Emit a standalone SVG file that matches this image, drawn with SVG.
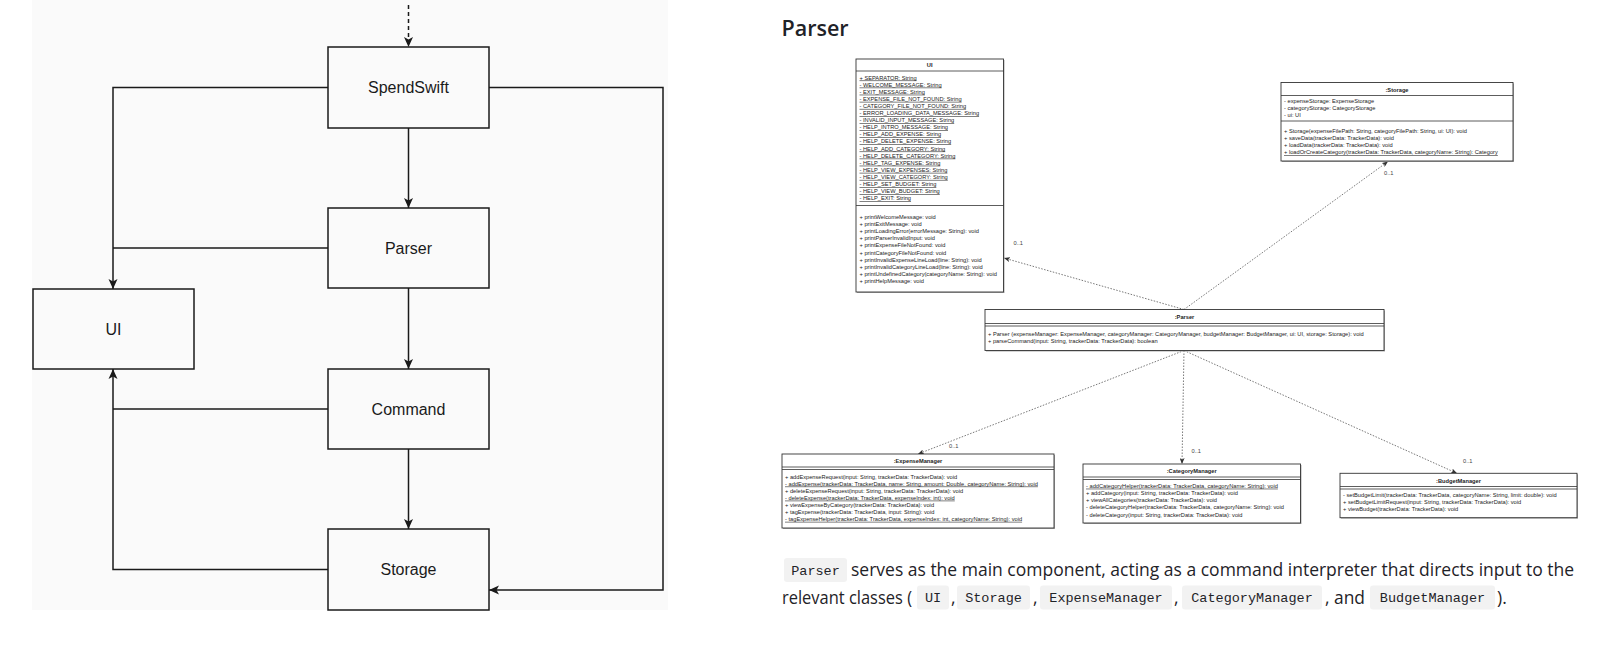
<svg xmlns="http://www.w3.org/2000/svg" width="1617" height="654" viewBox="0 0 1617 654">
<style>
.lb{font-family:"Liberation Sans",Arial,sans-serif;font-size:16px;fill:#1a1a1a;text-anchor:middle}
.bx{fill:#fafafa;stroke:#1a1a1a;stroke-width:1.5}
.ln{stroke:#1a1a1a;stroke-width:1.5;fill:none}
.u{font-family:"Liberation Sans",Arial,sans-serif;font-size:5.7px;fill:#222}
.uh{font-weight:bold;text-anchor:middle}
.ul{text-decoration:underline}
.ubox{fill:#fff;stroke:#333;stroke-width:0.9}
.ush{fill:#aaa}
.usep{stroke:#333;stroke-width:0.8}
.ud{stroke:#555;stroke-width:0.8;stroke-dasharray:1.5 1.5;fill:none}
.ml{font-family:"Liberation Sans",Arial,sans-serif;font-size:5.7px;fill:#444}
.body{font-family:"Open Sans","Liberation Sans",sans-serif;font-size:17.5px;fill:#1f2328}
.code{font-family:"Liberation Mono","DejaVu Sans Mono",monospace;font-size:13.5px;fill:#1f2328;text-anchor:middle}
.cbg{fill:#f2f2f2}
</style>
<defs>
<marker id="arr" viewBox="0 0 10 10" refX="10" refY="5" markerWidth="10" markerHeight="10" markerUnits="userSpaceOnUse" orient="auto">
<path d="M0,0.5 L10,5 L0,9.5 L2.5,5 z" fill="#1a1a1a"/>
</marker>
<marker id="sarr" viewBox="0 0 6 5" refX="6" refY="2.5" markerWidth="6" markerHeight="5" markerUnits="userSpaceOnUse" orient="auto">
<path d="M0,0 L6,2.5 L0,5 L1.5,2.5 z" fill="#333"/>
</marker>
</defs>
<rect x="0" y="0" width="1617" height="654" fill="#ffffff"/>
<rect x="32" y="0" width="636" height="610" fill="#fafafa"/>

<g id="left-connectors">
<path class="ln" d="M408.5,5 L408.5,47" stroke-dasharray="4 3" marker-end="url(#arr)"/>
<path class="ln" d="M408.5,128 L408.5,208" marker-end="url(#arr)"/>
<path class="ln" d="M328,87.5 L113,87.5 L113,289" marker-end="url(#arr)"/>
<path class="ln" d="M328,248 L113,248"/>
<path class="ln" d="M408.5,288 L408.5,369" marker-end="url(#arr)"/>
<path class="ln" d="M408.5,449 L408.5,529" marker-end="url(#arr)"/>
<path class="ln" d="M328,409 L113,409"/>
<path class="ln" d="M328,569.5 L113,569.5 L113,369" marker-end="url(#arr)"/>
<path class="ln" d="M489,87.5 L663,87.5 L663,590 L489,590" marker-end="url(#arr)"/>
</g>
<g id="spendswift"><rect class="bx" x="328" y="47" width="161" height="81"/><text class="lb" x="408.5" y="93.2">SpendSwift</text></g>
<g id="parser"><rect class="bx" x="328" y="208" width="161" height="80"/><text class="lb" x="408.5" y="253.7">Parser</text></g>
<g id="ui"><rect class="bx" x="33" y="289" width="161" height="80"/><text class="lb" x="113.5" y="334.5">UI</text></g>
<g id="command"><rect class="bx" x="328" y="369" width="161" height="80"/><text class="lb" x="408.5" y="414.7">Command</text></g>
<g id="storage"><rect class="bx" x="328" y="529" width="161" height="81"/><text class="lb" x="408.5" y="575.2">Storage</text></g>

<text x="781.5" y="36" font-family="'Open Sans','Liberation Sans',sans-serif" font-size="21.5" font-weight="600" fill="#1f2328">Parser</text>

<g id="uml-connectors">
<path class="ud" d="M1184,309.5 L1004,258" marker-end="url(#sarr)"/>
<path class="ud" d="M1184,309.5 L1388,161.5" marker-end="url(#sarr)"/>
<path class="ud" d="M1184,350.5 L918,454" marker-end="url(#sarr)"/>
<path class="ud" d="M1184,350.5 L1182,464" marker-end="url(#sarr)"/>
<path class="ud" d="M1184,350.5 L1457,473.3" marker-end="url(#sarr)"/>
<text class="ml" x="1013.5" y="245">0..1</text>
<text class="ml" x="1384" y="175">0..1</text>
<text class="ml" x="949" y="447.5">0..1</text>
<text class="ml" x="1191.5" y="452.7">0..1</text>
<text class="ml" x="1463" y="462.7">0..1</text>
</g>

<g id="uml-ui">
<rect class="ush" x="857" y="60" width="147.5" height="233"/>
<rect class="ubox" x="856" y="59" width="147.5" height="233"/>
<line class="usep" x1="856" y1="71" x2="1003.5" y2="71"/>
<text class="u uh" x="929.7" y="67" font-weight="normal">UI</text>
<g class="u ul">
<text x="859.5" y="79.5">+ SEPARATOR: String</text>
<text x="859.5" y="86.6">- WELCOME_MESSAGE: String</text>
<text x="859.5" y="93.7">- EXIT_MESSAGE: String</text>
<text x="859.5" y="100.8">- EXPENSE_FILE_NOT_FOUND: String</text>
<text x="859.5" y="107.9">- CATEGORY_FILE_NOT_FOUND: String</text>
<text x="859.5" y="115">- ERROR_LOADING_DATA_MESSAGE: String</text>
<text x="859.5" y="122.1">- INVALID_INPUT_MESSAGE: String</text>
<text x="859.5" y="129.2">- HELP_INTRO_MESSAGE: String</text>
<text x="859.5" y="136.3">- HELP_ADD_EXPENSE: String</text>
<text x="859.5" y="143.4">- HELP_DELETE_EXPENSE: String</text>
<text x="859.5" y="150.5">- HELP_ADD_CATEGORY: String</text>
<text x="859.5" y="157.6">- HELP_DELETE_CATEGORY: String</text>
<text x="859.5" y="164.7">- HELP_TAG_EXPENSE: String</text>
<text x="859.5" y="171.8">- HELP_VIEW_EXPENSES: String</text>
<text x="859.5" y="178.9">- HELP_VIEW_CATEGORY: String</text>
<text x="859.5" y="186">- HELP_SET_BUDGET: String</text>
<text x="859.5" y="193.1">- HELP_VIEW_BUDGET: String</text>
<text x="859.5" y="200.2">- HELP_EXIT: String</text>
</g>
<line class="usep" x1="856" y1="205.5" x2="1003.5" y2="205.5"/>
<g class="u">
<text x="859.5" y="218.6">+ printWelcomeMessage: void</text>
<text x="859.5" y="225.8">+ printExitMessage: void</text>
<text x="859.5" y="233">+ printLoadingError(errorMessage: String): void</text>
<text x="859.5" y="240.2">+ printParserInvalidInput: void</text>
<text x="859.5" y="247.4">+ printExpenseFileNotFound: void</text>
<text x="859.5" y="254.6">+ printCategoryFileNotFound: void</text>
<text x="859.5" y="261.8">+ printInvalidExpenseLineLoad(line: String): void</text>
<text x="859.5" y="269">+ printInvalidCategoryLineLoad(line: String): void</text>
<text x="859.5" y="276.2">+ printUndefinedCategory(categoryName: String): void</text>
<text x="859.5" y="283.4">+ printHelpMessage: void</text>
</g>
</g>

<g id="uml-storage">
<rect class="ush" x="1282" y="83.5" width="232" height="78.5"/>
<rect class="ubox" x="1281" y="82.5" width="232" height="78.5"/>
<text class="u uh" x="1397" y="91.5">:Storage</text>
<line class="usep" x1="1281" y1="95.5" x2="1513" y2="95.5"/>
<g class="u">
<text x="1284" y="103">- expenseStorage: ExpenseStorage</text>
<text x="1284" y="110">- categoryStorage: CategoryStorage</text>
<text x="1284" y="117">- ui: UI</text>
</g>
<line class="usep" x1="1281" y1="121" x2="1513" y2="121"/>
<g class="u">
<text x="1284" y="133">+ Storage(expenseFilePath: String, categoryFilePath: String, ui: UI): void</text>
<text x="1284" y="140">+ saveData(trackerData: TrackerData): void</text>
<text x="1284" y="147">+ loadData(trackerData: TrackerData): void</text>
<text x="1284" y="154" class="ul">+ loadOrCreateCategory(trackerData: TrackerData, categoryName: String): Category</text>
</g>
</g>

<g id="uml-parser">
<rect class="ush" x="986" y="310.5" width="399" height="41"/>
<rect class="ubox" x="985" y="309.5" width="399" height="41"/>
<text class="u uh" x="1184.5" y="319">:Parser</text>
<line class="usep" x1="985" y1="323.5" x2="1384" y2="323.5"/>
<line class="usep" x1="985" y1="326" x2="1384" y2="326"/>
<g class="u">
<text x="988" y="335.5">+ Parser (expenseManager: ExpenseManager, categoryManager: CategoryManager, budgetManager: BudgetManager, ui: UI, storage: Storage): void</text>
<text x="988" y="342.5">+ parseCommand(input: String, trackerData: TrackerData): boolean</text>
</g>
</g>

<g id="uml-expensemanager">
<rect class="ush" x="783" y="455" width="272" height="74"/>
<rect class="ubox" x="782" y="454" width="272" height="74"/>
<text class="u uh" x="918" y="463">:ExpenseManager</text>
<line class="usep" x1="782" y1="467" x2="1054" y2="467"/>
<line class="usep" x1="782" y1="469.5" x2="1054" y2="469.5"/>
<g class="u">
<text x="785" y="478.5">+ addExpenseRequest(input: String, trackerData: TrackerData): void</text>
<text x="785" y="485.55" class="ul">- addExpense(trackerData: TrackerData, name: String, amount: Double, categoryName: String): void</text>
<text x="785" y="492.6">+ deleteExpenseRequest(input: String, trackerData: TrackerData): void</text>
<text x="785" y="499.65" class="ul">- deleteExpense(trackerData: TrackerData, expenseIndex: int): void</text>
<text x="785" y="506.7">+ viewExpenseByCategory(trackerData: TrackerData): void</text>
<text x="785" y="513.75">+ tagExpense(trackerData: TrackerData, input: String): void</text>
<text x="785" y="520.8" class="ul">- tagExpenseHelper(trackerData: TrackerData, expenseIndex: int, categoryName: String): void</text>
</g>
</g>

<g id="uml-categorymanager">
<rect class="ush" x="1084" y="465" width="217.5" height="59"/>
<rect class="ubox" x="1083" y="464" width="217.5" height="59"/>
<text class="u uh" x="1191.7" y="473">:CategoryManager</text>
<line class="usep" x1="1083" y1="477" x2="1300.5" y2="477"/>
<line class="usep" x1="1083" y1="479.5" x2="1300.5" y2="479.5"/>
<g class="u">
<text x="1086" y="487.7" class="ul">- addCategoryHelper(trackerData: TrackerData, categoryName: String): void</text>
<text x="1086" y="494.9">+ addCategory(input: String, trackerData: TrackerData): void</text>
<text x="1086" y="502.1">+ viewAllCategories(trackerData: TrackerData): void</text>
<text x="1086" y="509.3">- deleteCategoryHelper(trackerData: TrackerData, categoryName: String): void</text>
<text x="1086" y="516.5">- deleteCategory(input: String, trackerData: TrackerData): void</text>
</g>
</g>

<g id="uml-budgetmanager">
<rect class="ush" x="1341" y="474.3" width="237" height="44.4"/>
<rect class="ubox" x="1340" y="473.3" width="237" height="44.4"/>
<text class="u uh" x="1458.5" y="482.5">:BudgetManager</text>
<line class="usep" x1="1340" y1="486.5" x2="1577" y2="486.5"/>
<line class="usep" x1="1340" y1="489" x2="1577" y2="489"/>
<g class="u">
<text x="1343" y="497">- setBudgetLimit(trackerData: TrackerData, categoryName: String, limit: double): void</text>
<text x="1343" y="504.2">+ setBudgetLimitRequest(input: String, trackerData: TrackerData): void</text>
<text x="1343" y="511.4">+ viewBudget(trackerData: TrackerData): void</text>
</g>
</g>

<g id="paragraph">
<rect class="cbg" x="784" y="558" width="63" height="24" rx="3"/>
<text class="code" x="815.5" y="574.5">Parser</text>
<text class="body" x="851" y="576">serves as the main component, acting as a command interpreter that directs input to the</text>
<text class="body" x="782" y="603.5" textLength="130" lengthAdjust="spacingAndGlyphs">relevant classes (</text>
<rect class="cbg" x="917" y="585.5" width="32" height="24" rx="3"/>
<text class="code" x="933" y="602">UI</text>
<text class="body" x="951" y="603.5">,</text>
<rect class="cbg" x="957" y="585.5" width="73" height="24" rx="3"/>
<text class="code" x="993.5" y="602">Storage</text>
<text class="body" x="1033" y="603.5">,</text>
<rect class="cbg" x="1040" y="585.5" width="132" height="24" rx="3"/>
<text class="code" x="1106" y="602">ExpenseManager</text>
<text class="body" x="1174" y="603.5">,</text>
<rect class="cbg" x="1182" y="585.5" width="140" height="24" rx="3"/>
<text class="code" x="1252" y="602">CategoryManager</text>
<text class="body" x="1325" y="603.5" textLength="40" lengthAdjust="spacingAndGlyphs">, and</text>
<rect class="cbg" x="1370" y="585.5" width="125" height="24" rx="3"/>
<text class="code" x="1432.5" y="602">BudgetManager</text>
<text class="body" x="1497" y="603.5">).</text>
</g>
</svg>
